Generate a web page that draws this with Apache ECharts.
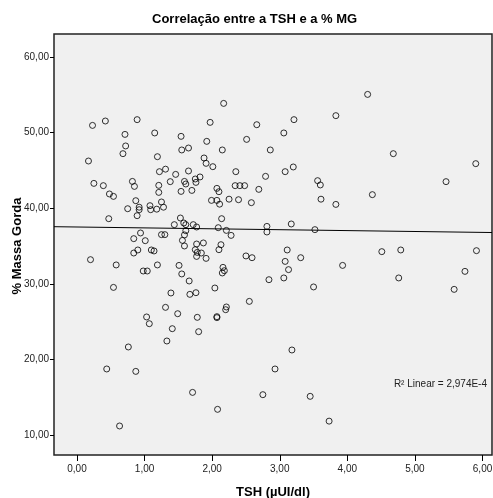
<!DOCTYPE html>
<html>
<head>
<meta charset="utf-8">
<script src="https://cdn.jsdelivr.net/npm/echarts@6/dist/echarts.min.js"></script>
<style>
  html, body { margin: 0; padding: 0; background: #ffffff; }
  #chart { width: 493px; height: 498px; }
</style>
</head>
<body>
<div id="chart"></div>
<script>
// TSH (µUI/dl) values for each subject
var tsh = [
  0.23, 0.42, 0.89, 0.71, 1.15, 0.72, 0.68, 0.17, 1.19, 1.22, 1.31, 0.25, 0.39, 0.82, 0.85, 1.21,
  1.21, 0.48, 0.54, 0.87, 1.25, 0.75, 0.92, 0.92, 1.08, 1.09, 1.18, 0.89, 0.47, 1.28, 0.94, 0.84,
  1.01, 1.25, 1.30, 0.90, 0.84, 1.10, 1.14, 0.20, 0.58, 1.19, 0.98, 1.04, 0.54, 1.31, 1.03, 1.07,
  0.76, 0.44, 0.87, 0.63,
  2.17, 1.97, 2.66, 1.54, 1.92, 2.51, 1.55, 1.65, 2.15, 2.86, 1.88, 1.91, 2.01, 1.46, 1.65, 2.35,
  2.79, 1.38, 1.59, 1.61, 1.75, 1.76, 1.82, 2.07, 2.10, 2.34, 2.41, 2.48, 2.69, 1.54, 1.70, 1.99,
  2.07, 2.11, 2.25, 2.39, 2.58, 1.53, 1.44, 1.58, 1.61, 1.72, 1.77, 2.14, 2.09, 2.21, 2.28, 2.81,
  2.81, 1.61, 1.59, 1.56, 1.59, 1.77, 1.87, 2.13, 2.10, 1.75, 1.78, 1.84, 1.77, 1.91, 2.50, 2.59,
  1.51, 1.55, 1.66, 2.16, 2.18, 2.15, 2.84, 2.04, 1.39, 1.67, 1.76, 2.55, 1.49, 2.21, 2.20, 1.78,
  2.07, 2.07, 1.41, 1.80, 1.33, 1.71, 2.75, 2.08,
  4.30, 3.83, 3.21, 3.06, 3.08, 3.20, 3.56, 3.60, 3.61, 3.83, 4.37, 3.17, 3.52, 3.11, 3.08, 3.13,
  3.31, 3.93, 3.06, 3.50, 3.18, 2.93, 3.45, 3.73, 4.68, 5.90, 5.46, 4.51, 4.79, 5.91, 4.76, 5.74,
  5.58
];
// % massa gorda for the same subjects
var massaGorda = [
  50.95, 51.53, 51.71, 49.76, 49.95, 48.23, 47.21, 46.24, 46.81, 44.83, 45.16, 43.28, 42.98, 43.54, 42.88, 43.02,
  42.09, 41.88, 41.56, 40.99, 40.82, 39.93, 40.13, 39.80, 40.33, 39.80, 39.87, 39.01, 38.61, 40.13, 36.72, 35.97,
  35.70, 36.50, 36.50, 34.47, 34.07, 34.47, 34.34, 33.19, 32.49, 32.49, 31.69, 31.69, 29.52, 26.88, 25.61, 24.72,
  21.64, 18.73, 18.41, 11.19,
  53.86, 51.35, 51.04, 49.50, 48.84, 49.10, 47.70, 47.96, 47.70, 47.70, 46.64, 45.93, 45.49, 44.47, 44.92, 44.83,
  44.21, 43.51, 43.54, 43.20, 43.86, 43.41, 44.13, 42.62, 42.18, 42.98, 42.98, 42.98, 42.49, 42.22, 42.35, 41.03,
  41.03, 40.53, 41.19, 41.12, 40.73, 38.70, 37.82, 38.04, 37.82, 37.82, 37.51, 38.61, 37.42, 37.06, 36.40, 37.59,
  36.85, 37.02, 36.46, 35.74, 35.00, 35.26, 35.40, 35.17, 34.51, 34.51, 34.15, 34.07, 33.62, 33.36, 33.68, 33.45,
  32.43, 31.30, 30.37, 32.17, 31.73, 31.43, 30.54, 29.44, 28.78, 28.60, 28.82, 27.67, 26.04, 26.93, 26.57, 25.56,
  25.65, 25.52, 24.06, 23.66, 22.43, 15.63, 15.33, 13.39,
  55.05, 52.24, 51.71, 49.95, 44.83, 45.45, 43.64, 43.07, 41.19, 40.50, 41.79, 37.91, 37.16, 34.47, 32.96, 31.87,
  33.45, 32.43, 30.77, 29.58, 21.24, 18.73, 15.11, 11.83, 47.21, 45.89, 43.51, 34.25, 34.47, 34.38, 30.77, 31.64,
  29.26
];
// linear fit line (ends of the drawn line)
var fitX = [-0.34, 6.14];
var fitY = [37.55, 36.78];
var xTicks = [0, 1, 2, 3, 4, 5, 6];
var yTicks = [10, 20, 30, 40, 50, 60];
var r2Text = 'R\u00b2 Linear = 2,974E-4';

var points = tsh.map(function (v, i) { return [v, massaGorda[i]]; });
var fitData = fitX.map(function (v, i) { return [v, fitY[i]]; });

function fmt(v) { return v.toFixed(2).replace('.', ','); }

var chart = echarts.init(document.getElementById('chart'), null, { renderer: 'canvas' });
var fontFam = '"Liberation Sans", Arial, sans-serif';

var option = {
  backgroundColor: '#ffffff',
  animation: false,
  title: {
    text: 'Correlação entre a TSH e a % MG',
    left: 147,
    top: 8,
    textStyle: { fontFamily: fontFam, fontSize: 13, fontWeight: 'bold', color: '#000' }
  },
  grid: {
    left: 54, top: 34, right: 1, bottom: 43,
    outerBoundsMode: 'none',
    containLabel: false,
    show: true,
    backgroundColor: '#f0f0f0',
    borderColor: '#222',
    borderWidth: 1.5
  },
  xAxis: {
    type: 'value',
    min: -0.34, max: 6.14,
    name: 'TSH (µUI/dl)',
    nameLocation: 'middle',
    nameGap: 31,
    nameTextStyle: { fontFamily: fontFam, fontSize: 13, fontWeight: 'bold', color: '#000' },
    axisLine: { show: false, onZero: false },
    splitLine: { show: false },
    axisTick: { show: true, length: 6, customValues: xTicks, lineStyle: { color: '#000' } },
    axisLabel: {
      customValues: xTicks,
      margin: 9,
      fontFamily: fontFam, fontSize: 10, color: '#222',
      formatter: fmt
    }
  },
  yAxis: {
    type: 'value',
    min: 7.35, max: 63.04,
    axisLine: { show: false, onZero: false },
    splitLine: { show: false },
    axisTick: { show: true, length: 4, customValues: yTicks, lineStyle: { color: '#000' } },
    axisLabel: {
      customValues: yTicks,
      margin: 5,
      fontFamily: fontFam, fontSize: 10, color: '#222',
      formatter: fmt
    }
  },
  graphic: [{
    type: 'text',
    x: 17,
    y: 246,
    rotation: Math.PI / 2,
    style: {
      text: '% Massa Gorda',
      font: 'bold 13px ' + fontFam,
      fill: '#000',
      align: 'center',
      verticalAlign: 'middle'
    }
  }, {
    type: 'text',
    right: 6,
    top: 379,
    style: { text: r2Text, font: '10px ' + fontFam, fill: '#222' }
  }],
  series: [{
    type: 'line',
    data: fitData,
    symbol: 'none',
    lineStyle: { color: '#000', width: 1 },
    z: 2
  }, {
    type: 'scatter',
    data: points,
    symbol: 'circle',
    symbolSize: 6,
    itemStyle: { color: 'rgba(0,0,0,0)', borderColor: '#000', borderWidth: 1 },
    z: 3
  }]
};
chart.setOption(option);
</script>
</body>
</html>
